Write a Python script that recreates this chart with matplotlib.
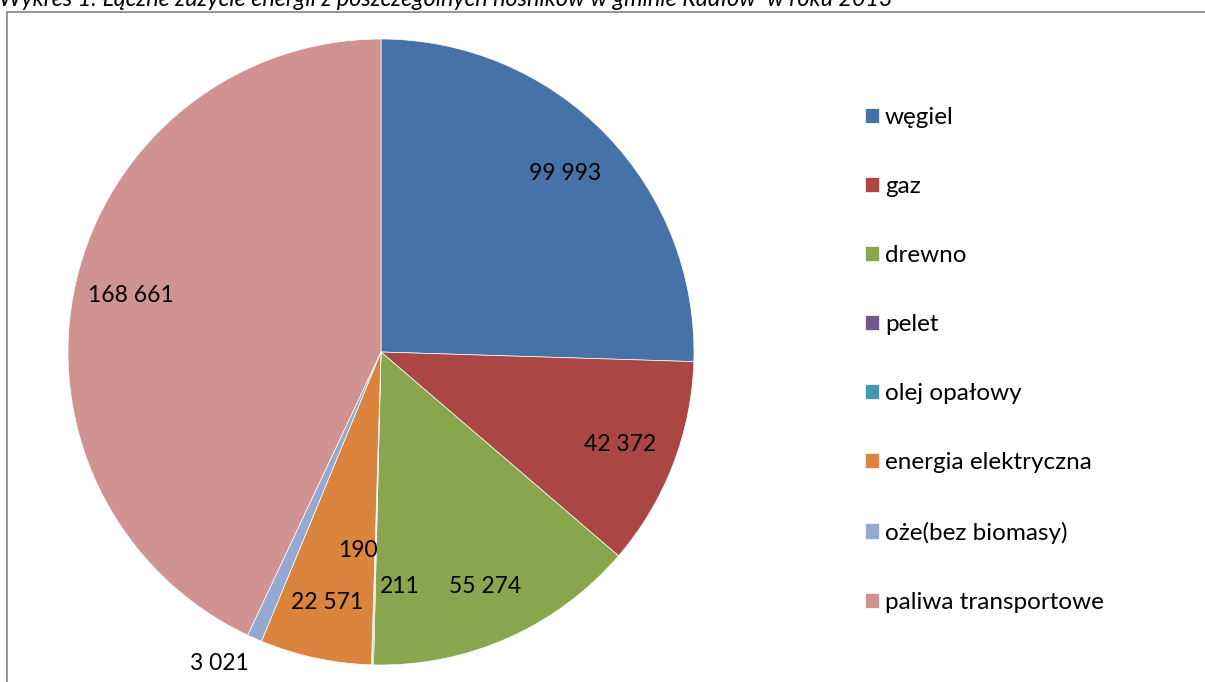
import numpy as np
import matplotlib.pyplot as plt
from matplotlib.patches import Rectangle

plt.rcParams['font.family'] = ['Lato', 'DejaVu Sans']

categories = ["węgiel", "gaz", "drewno", "pelet", "olej opałowy",
              "energia elektryczna", "oże(bez biomasy)", "paliwa transportowe"]
values = [99993, 42372, 55274, 211, 190, 22571, 3021, 168661]
colors = ["#4572A7", "#AA4643", "#89A54E", "#71588F", "#4198AF",
          "#DB843D", "#93A9CF", "#D19392"]

title = "Wykres 1. Łączne zużycie energii z poszczególnych nośników w gminie Radłów  w roku 2013"


def fmt(v):
    return f"{v:,}".replace(",", " ")


# label placement: (radius, angle shift in degrees) for the crowded small slices
label_pos = {3: (0.75, 6.0), 4: (0.64, -5.0), 6: (1.12, -3.6)}

W, H = 1205, 682
fig = plt.figure(figsize=(W / 100, H / 100), dpi=100)

# outer frame of the chart area
fig.patches.append(Rectangle((7.5 / W, -0.05), 1.1, (H - 12) / H + 0.05,
                             transform=fig.transFigure, fill=False,
                             edgecolor="#8c8c8c", linewidth=1.3))

fig.text(-0.001, (H - 6) / H, title, fontsize=16.8, style="italic",
         va="baseline", ha="left")

cx, cy, R = 381, 352, 313
ax = fig.add_axes([(cx - R) / W, (H - cy - R) / H, 2 * R / W, 2 * R / H])
wedges, _ = ax.pie(values, colors=colors, startangle=90, counterclock=False,
                   radius=1, wedgeprops=dict(edgecolor="white", linewidth=0.5))
ax.set_xlim(-1, 1)
ax.set_ylim(-1, 1)
ax.set_aspect("auto")

for i, (w, v) in enumerate(zip(wedges, values)):
    theta = (w.theta1 + w.theta2) / 2
    r, shift = label_pos.get(i, (0.82, 0.0))
    a = np.deg2rad(theta + shift)
    ax.text(r * np.cos(a), r * np.sin(a), fmt(v), ha="center", va="center",
            fontsize=16.5, clip_on=False)

fig.legend(wedges, categories, loc="upper left",
           bbox_to_anchor=(855 / W, (H - 97) / H), frameon=False,
           fontsize=17.5, handlelength=0.58, handleheight=0.58,
           handletextpad=0.25, labelspacing=1.98, borderaxespad=0)

fig.savefig("out.png", dpi=100)
